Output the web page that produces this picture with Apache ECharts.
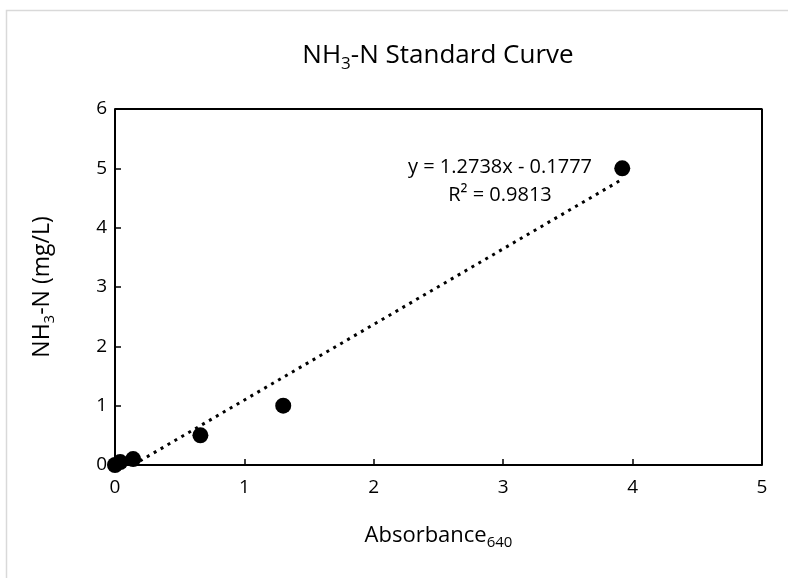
<!DOCTYPE html>
<html>
<head>
<meta charset="utf-8">
<script src="https://cdn.jsdelivr.net/npm/echarts@6/dist/echarts.min.js"></script>
<style>
html,body{margin:0;padding:0;background:#fff;}
#chart{width:788px;height:578px;}
</style>
</head>
<body>
<div id="chart"></div>
<script>
// Data
const absorbance = [0, 0.04, 0.14, 0.66, 1.30, 3.92];
const concentration = [0, 0.05, 0.1, 0.5, 1.0, 5.0];
const slope = 1.2738;
const intercept = -0.1777;
const xTicks = [0, 1, 2, 3, 4, 5];
const yTicks = [0, 1, 2, 3, 4, 5, 6];
const equationText = 'y = 1.2738x - 0.1777';
const r2Text = 'R² = 0.9813';

const points = absorbance.map((x, i) => [x, concentration[i]]);
const xStart = -intercept / slope;
const xEnd = absorbance[absorbance.length - 1];
const trend = [[xStart, slope * xStart + intercept], [xEnd, slope * xEnd + intercept]];

const font = '"Open Sans", "Liberation Sans", sans-serif';
const chart = echarts.init(document.getElementById('chart'));
chart.setOption({
  animation: false,
  backgroundColor: '#fff',
  graphic: [{
    type: 'rect', shape: {x: 6.5, y: 10.5, width: 800, height: 600},
    style: {fill: 'none', stroke: '#d9d9d9', lineWidth: 1.5}, silent: true, z: -1
  }, {
    type: 'text', x: 438, y: 39,
    style: {
      text: '{n|NH}{s|3}{n|-N Standard Curve}',
      align: 'center',
      rich: {
        n: {fontSize: 26, fontFamily: font, fill: '#000'},
        s: {fontSize: 17, fontFamily: font, fill: '#000', padding: [17, 0, 0, 0]}
      }
    }
  }, {
    type: 'text', x: 500, y: 153,
    style: {text: equationText + '\n' + r2Text, fontSize: 20, fontFamily: font, fill: '#000', align: 'center', lineHeight: 28}
  }],
  grid: {left: 115, right: 26, top: 109, bottom: 113},
  xAxis: {
    type: 'value', min: 0, max: 5, interval: 1,
    name: '{n|Absorbance}{s|640}', nameLocation: 'middle', nameGap: 56,
    nameTextStyle: {rich: {
      n: {fontSize: 22, fontFamily: font, color: '#000'},
      s: {fontSize: 15, fontFamily: font, color: '#000', padding: [14, 0, 0, 0]}
    }},
    axisLine: {show: true, lineStyle: {color: '#000', width: 2}},
    axisTick: {show: true, inside: true, length: 6, lineStyle: {color: '#000', width: 1.5}},
    axisLabel: {fontSize: 19, fontFamily: font, color: '#000', margin: 13},
    splitLine: {show: false}
  },
  yAxis: {
    type: 'value', min: 0, max: 6, interval: 1,
    name: '{n|NH}{s|3}{n|-N (mg/L)}', nameLocation: 'middle', nameGap: 58, nameRotate: 90,
    nameTextStyle: {rich: {
      n: {fontSize: 23, fontFamily: font, color: '#000'},
      s: {fontSize: 15, fontFamily: font, color: '#000', padding: [15, 0, 0, 0]}
    }},
    axisLine: {show: true, lineStyle: {color: '#000', width: 2}},
    axisTick: {show: true, inside: true, length: 6, lineStyle: {color: '#000', width: 1.5}},
    axisLabel: {fontSize: 19, fontFamily: font, color: '#000', margin: 8},
    splitLine: {show: false}
  },
  series: [{
    type: 'line', data: trend, showSymbol: false, symbol: 'none',
    lineStyle: {color: '#000', width: 3, type: [3, 5]}, z: 1
  }, {
    type: 'line', data: [[5, 0], [5, 6], [0, 6]], showSymbol: false, symbol: 'none',
    lineStyle: {color: '#000', width: 2}, silent: true, z: 0
  }, {
    type: 'scatter', data: points, symbol: 'circle', symbolSize: 16,
    itemStyle: {color: '#000', opacity: 1}, z: 3
  }]
});
</script>
</body>
</html>
